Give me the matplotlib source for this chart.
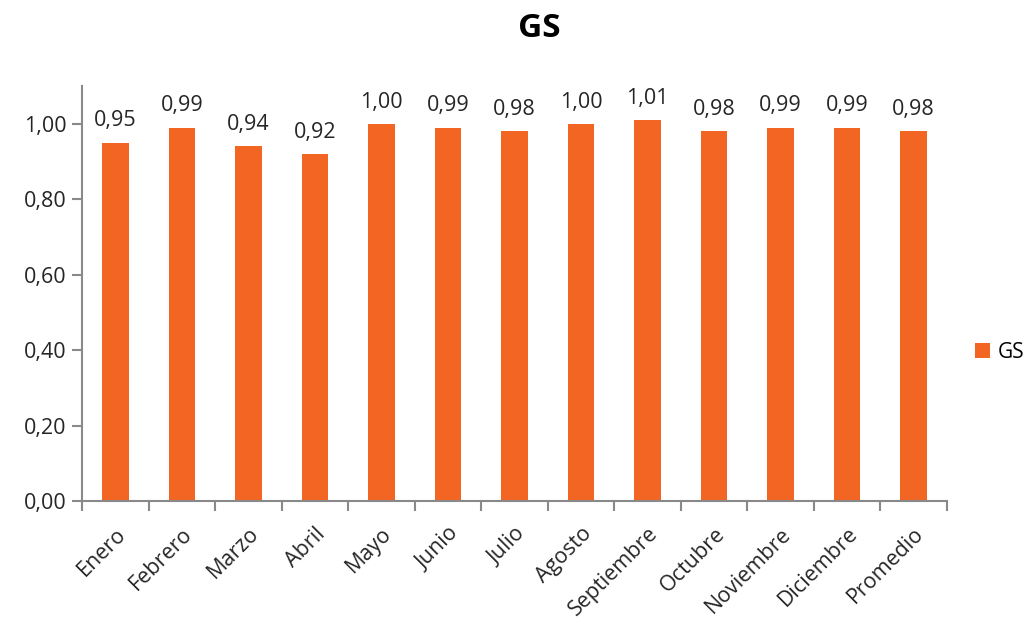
import numpy as np
import matplotlib.pyplot as plt
from matplotlib.ticker import FixedLocator, FuncFormatter

meses = ['Enero', 'Febrero', 'Marzo', 'Abril', 'Mayo', 'Junio', 'Julio',
         'Agosto', 'Septiembre', 'Octubre', 'Noviembre', 'Diciembre', 'Promedio']
gs = [0.95, 0.99, 0.94, 0.92, 1.00, 0.99, 0.98, 1.00, 1.01, 0.98, 0.99, 0.99, 0.98]

plt.rcParams['font.family'] = ['Open Sans', 'DejaVu Sans']
color = '#F26522'
gris = '#898989'

fig = plt.figure(figsize=(10.32, 6.24), dpi=100)
ax = fig.add_axes([0.0795, 0.197, 0.838, 0.665])

x = np.arange(len(meses))
bars = ax.bar(x, gs, width=0.4, color=color, label='GS')

for xi, v in zip(x, gs):
    ax.text(xi, v + 0.03, '{:.2f}'.format(v).replace('.', ','), ha='center', va='bottom',
            fontsize=15.5, color='#262626')

ax.set_xlim(-0.5, len(meses) - 0.5)
ax.set_ylim(0, 1.1)
ax.set_yticks(np.arange(0, 1.01, 0.2))
ax.yaxis.set_major_formatter(FuncFormatter(lambda v, p: '{:.2f}'.format(v).replace('.', ',')))
ax.set_xticks(x)
ax.set_xticklabels(meses, rotation=45, ha='right', rotation_mode='anchor')
ax.xaxis.set_minor_locator(FixedLocator(np.arange(-0.5, len(meses), 1)))
ax.tick_params(axis='x', which='major', length=0, pad=16, labelsize=15.5, colors='#262626')
ax.tick_params(axis='x', which='minor', length=7, width=1.5, color=gris, direction='out')
ax.tick_params(axis='y', length=7, width=1.5, color=gris, labelsize=15.5, labelcolor='#262626', pad=4)

for s in ['top', 'right']:
    ax.spines[s].set_visible(False)
for s in ['left', 'bottom']:
    ax.spines[s].set_color(gris)
    ax.spines[s].set_linewidth(1.5)

fig.text(0.523, 0.955, 'GS', ha='center', va='center', fontsize=24, fontweight='bold')
fig.legend(loc='center left', bbox_to_anchor=(0.945, 0.435), frameon=False,
           borderpad=0, borderaxespad=0,
           fontsize=15, handlelength=0.7, handleheight=0.7, handletextpad=0.4)

fig.savefig('out.png', dpi=100)
